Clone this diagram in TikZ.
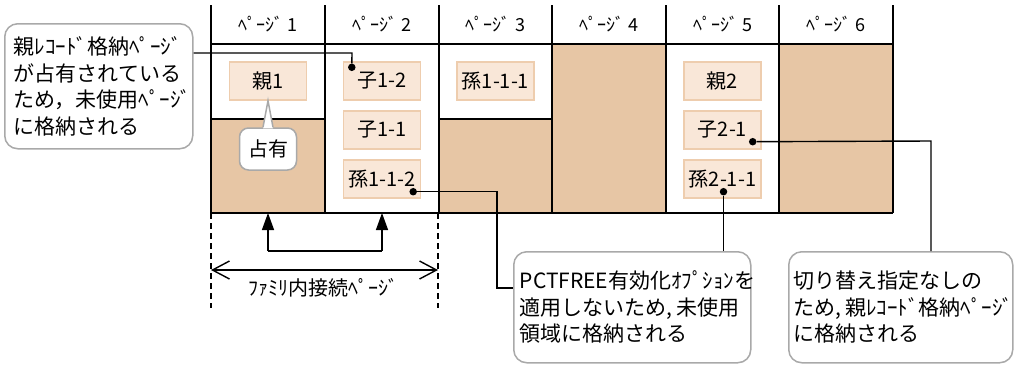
\documentclass[tikz,border=0pt]{standalone}
\usepackage{fontspec}
\setmainfont{Noto Sans CJK JP}
\usetikzlibrary{arrows.meta, positioning, calc}
\definecolor{pgbrown}{HTML}{E7C6A5}
\definecolor{recfill}{HTML}{F9E7D8}
\definecolor{recline}{HTML}{EECDAE}
\definecolor{notegrey}{HTML}{A9A9A9}

\begin{document}
\begin{tikzpicture}[
    x=1pt, y=-1pt,
    grid/.style={line width=1.6pt},
    conn/.style={line width=1.4pt},
    rec/.style={draw=recline, line width=1.4pt, fill=recfill, minimum width=77pt,
      minimum height=38pt, inner sep=0pt, font=\fontsize{20}{20}\selectfont},
    note/.style={draw=notegrey, line width=1.5pt, rounded corners=13pt, fill=white,
      align=left, inner ysep=0pt, anchor=north west, font=\fontsize{21}{26.5}\selectfont},
    dot/.style={circle, fill=black, inner sep=0pt, minimum size=7.5pt},
    pghead/.style={font=\fontsize{18}{18}\selectfont},
    uparr/.style={conn, -{Triangle[length=17pt, width=12pt]}},
    dimarr/.style={conn, {Straight Barb[length=17pt, width=18pt]}-{Straight Barb[length=17pt, width=18pt]}}]

  \useasboundingbox (0,0) rectangle (1016,365);

  % used parts of the pages
  \fill[pgbrown] (211,119) rectangle (325,213);
  \fill[pgbrown] (439,119) rectangle (552,213);
  \fill[pgbrown] (552,44) rectangle (666,213);
  \fill[pgbrown] (779,44) rectangle (893,213);

  \foreach \x in {211,325,439,552,666,779,893}
    \draw[grid] (\x,5) -- (\x,213);
  \draw[grid] (211,44) -- (893,44);
  \draw[grid] (211,213) -- (893,213);
  \draw[grid] (211,119) -- (325,119);
  \draw[grid] (439,119) -- (552,119);
  \coordinate (tblbot) at (211,213);

  \foreach \i/\x in {1/268,2/382,3/495.5,4/609,5/722.5,6/836}
    \node[pghead] (head\i) at (\x,24) {ﾍﾟｰｼﾞ \i};

  % records
  \node[rec] (oya1) at (268,81) {親1};
  \node[rec] (ko12) at (382,81) {子1-2};
  \node[rec] (ko11) at (382,130) {子1-1};
  \node[rec] (mago112) at (382,179) {孫1-1-2};
  \node[rec] (mago111) at (495.5,81) {孫1-1-1};
  \node[rec] (oya2) at (722.5,81) {親2};
  \node[rec] (ko21) at (722.5,130) {子2-1};
  \node[rec] (mago211) at (722.5,179) {孫2-1-1};

  % occupied callout
  \node[draw=notegrey, line width=1.5pt, rounded corners=9pt, fill=white,
    minimum width=57pt, minimum height=42pt, inner sep=0pt,
    font=\fontsize{20}{20}\selectfont] (senyu) at (268,149) {占有};
  \fill[white] ($(senyu.north)+(-5,1)$) -- (oya1.south) -- ($(senyu.north)+(5,1)$) -- cycle;
  \draw[draw=notegrey, line width=1.5pt] ($(senyu.north)+(-5,0)$) -- (oya1.south)
    -- ($(senyu.north)+(5,0)$);

  % notes
  \node[note, text width=170pt, inner xsep=9pt, minimum height=125pt] (noteL) at (4,23) {%
    親ﾚｺｰﾄﾞ格納ﾍﾟｰｼﾞ\\
    が占有されている\\
    ため，未使用ﾍﾟｰｼﾞ\\
    に格納される};
  \node[note, text width=225pt, inner xsep=6pt, minimum height=111pt] (noteP) at (513,251) {%
    PCTFREE有効化ｵﾌﾟｼｮﾝを\\
    適用しないため,\,未使用\\
    領域に格納される};
  \node[note, text width=214pt, inner xsep=5pt, minimum height=111pt] (noteR) at (788,251) {%
    切り替え指定なしの\\
    ため,\,親ﾚｺｰﾄﾞ格納ﾍﾟｰｼﾞ\\
    に格納される};

  % connectors
  \node[dot] (d1) at ($(ko12.north west)+(9,6)$) {};
  \node[dot] (d2) at ($(mago112.south east)+(-8,-7)$) {};
  \node[dot] (d3) at ($(mago211.south)+(1,-7)$) {};
  \node[dot] (d4) at ($(ko21.south east)+(-9,-8)$) {};
  \coordinate (bendL) at (352,53);
  \coordinate (bendP) at (497,288);
  \coordinate (bendR) at (931,141);

  \draw[conn] (bendL -| noteL.east) -- (bendL) -- (d1);
  \draw[conn] (d2) -| (bendP) -- (bendP -| noteP.west);
  \draw[conn] (d3) -- (d3 |- noteP.north);
  \draw[conn] (d4) -- (bendR) -- (bendR |- noteR.north);

  % family pages
  \coordinate (famL) at (268,251);
  \coordinate (famR) at (382,251);
  \draw[conn] (famL) -- (famR);
  \draw[uparr] (famL) -- (famL |- tblbot);
  \draw[uparr] (famR) -- (famR |- tblbot);

  \coordinate (dimL) at (211,308);
  \coordinate (dimR) at (438,308);
  \draw[conn, dash pattern=on 6pt off 4pt] (tblbot) -- (dimL);
  \draw[conn, dash pattern=on 6pt off 4pt] (tblbot -| dimR) -- (dimR);
  \draw[dimarr] (211,270) -- (438,270);
  \node[font=\fontsize{20}{20}\selectfont] (famlbl) at (323,288) {ﾌｧﾐﾘ内接続ﾍﾟｰｼﾞ};
\end{tikzpicture}
\end{document}
